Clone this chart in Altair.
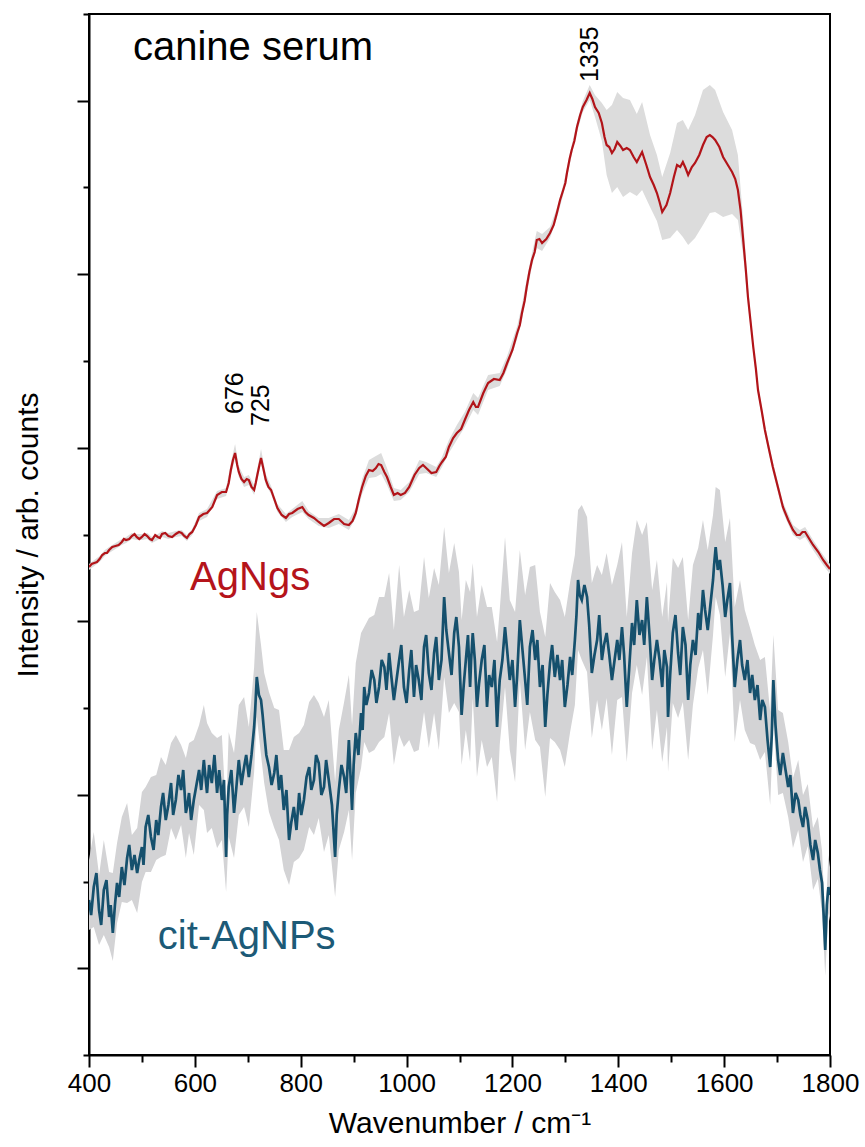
import altair as alt
import pandas as pd

# ---- AgNgs spectrum: main readings with the spread of the band ----
red_wn = [400, 410, 420, 430, 438, 450, 462, 470, 481, 490,
          500, 510, 519, 530, 538, 550, 564, 575, 585, 595,
          608, 623, 642, 659, 668, 676, 683, 693, 702, 712,
          718, 725, 734, 744, 756, 772, 784, 803, 815, 834,
          853, 872, 891, 904, 916, 929, 942, 952, 963, 976,
          989, 1005, 1024, 1037, 1056, 1067, 1080, 1095, 1110, 1126,
          1135, 1154, 1176, 1190, 1209, 1218, 1227, 1237, 1246, 1256,
          1271, 1284, 1296, 1303, 1312, 1322, 1333, 1346, 1356, 1369,
          1378, 1388, 1398, 1409, 1422, 1435, 1445, 1460, 1473, 1483,
          1498, 1511, 1522, 1532, 1545, 1560, 1573, 1583, 1598, 1615,
          1626, 1636, 1645, 1655, 1664, 1677, 1692, 1711, 1730, 1743,
          1753, 1768, 1787, 1800]
red_int = [488, 492, 496, 502, 505, 509, 513, 515, 519, 518,
           518, 519, 515, 518, 521, 519, 521, 522, 517, 523,
           538, 542, 560, 563, 585, 602, 583, 573, 575, 565,
           580, 597, 575, 565, 547, 537, 542, 548, 540, 533,
           532, 536, 530, 542, 568, 585, 587, 590, 578, 560,
           560, 568, 587, 587, 583, 593, 608, 622, 635, 653,
           648, 672, 675, 692, 722, 742, 768, 795, 815, 812,
           822, 842, 865, 882, 905, 928, 948, 962, 948, 932,
           910, 902, 913, 905, 905, 893, 903, 878, 862, 843,
           862, 890, 893, 880, 892, 910, 920, 915, 898, 883,
           865, 815, 758, 708, 665, 625, 588, 548, 525, 520,
           523, 510, 495, 486]
red_up = [3, 3, 3, 3, 3, 3, 3, 3, 3, 3,
          3, 3, 3, 3, 3, 3, 3, 3, 3, 3,
          4, 4, 4, 4, 7, 9, 6, 5, 5, 5,
          6, 9, 6, 4, 4, 4, 4, 6, 4, 4,
          5, 5, 5, 5, 8, 10, 12, 12, 9, 7,
          5, 5, 8, 6, 5, 5, 7, 8, 8, 9,
          9, 8, 7, 7, 7, 8, 8, 7, 9, 9,
          6, 5, 5, 5, 5, 5, 6, 8, 12, 20,
          35, 48, 50, 52, 50, 48, 50, 42, 38, 35,
          40, 42, 42, 45, 48, 55, 50, 50, 45, 42,
          35, 20, 10, 5, 5, 5, 5, 5, 5, 5,
          5, 5, 5, 5]
red_dn = [3, 3, 3, 3, 3, 3, 3, 3, 3, 3,
          3, 3, 3, 3, 3, 3, 3, 3, 3, 3,
          4, 4, 4, 4, 5, 6, 5, 5, 5, 5,
          5, 5, 5, 4, 4, 4, 4, 5, 4, 4,
          5, 5, 5, 5, 7, 8, 9, 9, 8, 6,
          5, 5, 6, 5, 5, 5, 6, 7, 7, 8,
          8, 7, 6, 6, 6, 7, 7, 6, 8, 8,
          5, 5, 5, 5, 5, 5, 5, 7, 10, 18,
          30, 40, 45, 47, 42, 34, 38, 30, 28, 28,
          45, 65, 75, 70, 75, 80, 78, 72, 60, 42,
          30, 15, 8, 5, 5, 5, 5, 5, 5, 5,
          5, 5, 5, 5]
# extra readings of the AgNgs trace between the main ones (fine jitter)
red_mid_wn = [405, 415, 425, 434, 444, 456, 466, 476, 486, 495,
              505, 515, 525, 534, 544, 557, 570, 580, 590, 602,
              616, 633, 651, 664, 672, 680, 688, 698, 707, 715,
              722, 730, 739, 750, 764, 778, 794, 809, 825, 844,
              863, 882, 898, 910, 923, 936, 947, 958, 970, 983,
              997, 1015, 1031, 1047, 1062, 1074, 1088, 1103, 1118, 1131,
              1145, 1165, 1183, 1200, 1214, 1223, 1232, 1242, 1251, 1264,
              1278, 1290, 1300, 1308, 1317, 1328, 1340, 1351, 1363, 1374,
              1383, 1393, 1404, 1416, 1429, 1440, 1453, 1467, 1478, 1491,
              1505, 1517, 1527, 1539, 1553, 1567, 1578, 1591, 1607, 1621,
              1631, 1641, 1650, 1660, 1671, 1685, 1702, 1721, 1737, 1748,
              1761, 1778, 1794]
red_mid_int = [491, 493, 500, 502, 508, 510, 516, 516, 521, 516,
               521, 516, 520, 517, 522, 518, 523, 519, 521, 530,
               541, 548, 563, 572, 595, 590, 576, 576, 568, 572,
               590, 585, 568, 556, 540, 541, 546, 543, 537, 529,
               536, 531, 534, 556, 579, 584, 591, 583, 568, 562,
               562, 580, 590, 582, 589, 598, 617, 626, 645, 648,
               662, 676, 682, 705, 730, 754, 783, 803, 816, 816,
               830, 855, 872, 896, 914, 940, 955, 956, 942, 918,
               908, 906, 909, 907, 898, 898, 890, 870, 853, 850,
               878, 888, 887, 888, 900, 918, 918, 908, 890, 876,
               845, 785, 733, 686, 644, 605, 567, 535, 520, 523,
               516, 503, 490]

# ---- cit-AgNPs spectrum: main readings with the spread of the band ----
blue_wn = [400, 409, 419, 428, 438, 445, 453, 462, 472, 481,
           491, 500, 507, 517, 527, 536, 545, 555, 564, 574,
           583, 589, 598, 608, 617, 623, 632, 642, 651, 659,
           664, 674, 683, 693, 702, 712, 717, 725, 731, 740,
           750, 759, 768, 778, 787, 797, 806, 816, 825, 834,
           844, 853, 865, 872, 882, 891, 897, 904, 914, 920,
           929, 939, 948, 958, 967, 976, 986, 995, 1005, 1014,
           1023, 1033, 1042, 1052, 1061, 1071, 1080, 1090, 1099, 1104,
           1112, 1120, 1125, 1133, 1142, 1152, 1161, 1171, 1176, 1186,
           1195, 1205, 1214, 1224, 1233, 1243, 1252, 1262, 1271, 1280,
           1290, 1299, 1309, 1318, 1324, 1331, 1341, 1350, 1360, 1369,
           1378, 1388, 1398, 1407, 1416, 1426, 1435, 1445, 1454, 1464,
           1473, 1483, 1492, 1494, 1503, 1513, 1522, 1532, 1541, 1551,
           1560, 1569, 1579, 1584, 1592, 1602, 1611, 1620, 1630, 1639,
           1649, 1658, 1668, 1677, 1687, 1693, 1702, 1711, 1721, 1730,
           1740, 1749, 1758, 1768, 1777, 1785, 1791, 1797, 1800]
blue_int = [155, 168, 145, 165, 138, 122, 172, 188, 197, 185,
            182, 208, 228, 218, 235, 248, 235, 272, 255, 265,
            242, 262, 255, 285, 295, 262, 272, 262, 255, 198,
            268, 242, 295, 288, 278, 328, 378, 355, 322, 288,
            282, 265, 245, 215, 248, 262, 255, 288, 275, 292,
            268, 275, 198, 265, 278, 315, 245, 322, 342, 368,
            362, 375, 368, 388, 402, 355, 395, 368, 385, 358,
            375, 408, 382, 402, 375, 458, 402, 422, 408, 340,
            395, 368, 422, 348, 395, 348, 368, 328, 375, 428,
            375, 348, 435, 375, 408, 395, 368, 328, 392, 378,
            375, 348, 398, 415, 475, 455, 458, 382, 415, 395,
            422, 375, 415, 428, 348, 432, 455, 435, 458, 375,
            415, 368, 388, 338, 422, 402, 428, 355, 415, 442,
            465, 425, 475, 508, 495, 438, 472, 368, 415, 375,
            362, 355, 335, 348, 288, 375, 295, 302, 268, 242,
            255, 228, 235, 195, 202, 172, 105, 168, 160]
blue_up = [40, 55, 35, 50, 45, 60, 40, 50, 55, 35,
           45, 55, 40, 60, 45, 50, 55, 40, 65, 45,
           55, 50, 60, 45, 55, 70, 50, 55, 65, 45,
           55, 60, 55, 70, 50, 60, 65, 55, 60, 75,
           65, 80, 60, 90, 70, 60, 75, 65, 85, 60,
           70, 80, 75, 60, 75, 65, 85, 70, 80, 60,
           75, 65, 90, 70, 80, 70, 95, 70, 80, 85,
           70, 90, 75, 85, 95, 70, 80, 90, 75, 95,
           80, 95, 70, 90, 75, 100, 80, 85, 70, 90,
           80, 95, 70, 85, 80, 95, 75, 90, 80, 85,
           80, 90, 75, 85, 70, 95, 80, 90, 75, 85,
           80, 95, 75, 85, 90, 70, 80, 85, 75, 90,
           80, 70, 85, 95, 75, 85, 70, 80, 75, 65,
           70, 80, 65, 60, 70, 75, 65, 80, 60, 70,
           65, 55, 60, 50, 55, 45, 50, 40, 45, 35,
           40, 32, 36, 32, 36, 32, 28, 32, 28]
blue_dn = [30, 40, 35, 45, 30, 28, 40, 35, 45, 30,
           40, 35, 45, 35, 40, 50, 35, 45, 40, 35,
           45, 40, 55, 35, 50, 40, 45, 55, 40, 35,
           50, 45, 55, 40, 50, 45, 40, 55, 50, 45,
           55, 50, 60, 45, 55, 65, 50, 60, 55, 55,
           65, 55, 40, 60, 55, 70, 50, 60, 55, 55,
           60, 70, 55, 70, 60, 65, 75, 60, 70, 55,
           70, 65, 75, 60, 70, 80, 60, 70, 65, 50,
           70, 75, 65, 70, 80, 60, 70, 75, 65, 60,
           70, 75, 60, 70, 65, 80, 60, 70, 75, 65,
           70, 60, 75, 65, 70, 60, 75, 65, 60, 70,
           65, 75, 60, 70, 55, 70, 65, 75, 60, 70,
           70, 75, 60, 55, 70, 65, 75, 60, 65, 55,
           60, 65, 55, 50, 55, 60, 50, 55, 60, 50,
           50, 45, 40, 45, 38, 42, 35, 40, 30, 35,
           30, 35, 26, 30, 26, 30, 26, 26, 26]
# extra readings of the noisy cit-AgNPs trace between the main ones
blue_mid_wn = [404, 414, 423, 433, 441, 449, 457, 467, 476, 486,
               495, 503, 512, 522, 531, 540, 550, 559, 569, 578,
               586, 593, 603, 612, 620, 627, 637, 646, 655, 661,
               669, 678, 688, 697, 707, 714, 721, 728, 735, 745,
               754, 763, 773, 782, 792, 801, 811, 820, 829, 839,
               848, 859, 868, 877, 886, 894, 900, 909, 917, 924,
               934, 943, 953, 962, 971, 981, 990, 1000, 1009, 1018,
               1028, 1037, 1047, 1056, 1066, 1075, 1085, 1094, 1101, 1108,
               1116, 1122, 1129, 1137, 1147, 1156, 1166, 1173, 1181, 1190,
               1200, 1209, 1219, 1228, 1238, 1247, 1257, 1266, 1275, 1285,
               1294, 1304, 1313, 1321, 1327, 1336, 1345, 1355, 1364, 1373,
               1383, 1393, 1402, 1411, 1421, 1430, 1440, 1449, 1459, 1468,
               1478, 1487, 1498, 1508, 1517, 1527, 1536, 1546, 1555, 1564,
               1574, 1581, 1588, 1597, 1606, 1615, 1625, 1634, 1644, 1653,
               1663, 1672, 1682, 1690, 1697, 1706, 1716, 1725, 1735, 1744,
               1753, 1763, 1772, 1781, 1788, 1794]
blue_mid_int = [140, 182, 130, 175, 150, 150, 158, 170, 210, 200,
                195, 190, 240, 205, 220, 262, 250, 240, 280, 285,
                250, 235, 270, 265, 278, 290, 300, 285, 275, 240,
                285, 265, 270, 300, 300, 345, 360, 340, 300, 270,
                300, 280, 265, 232, 225, 240, 278, 265, 300, 260,
                295, 250, 240, 290, 262, 280, 290, 300, 325, 350,
                385, 352, 395, 365, 380, 375, 410, 352, 405, 390,
                355, 420, 365, 418, 395, 425, 380, 438, 380, 370,
                420, 395, 395, 372, 410, 380, 395, 350, 395, 405,
                395, 380, 405, 350, 425, 415, 390, 360, 410, 400,
                395, 370, 380, 440, 460, 470, 430, 400, 440, 410,
                400, 395, 395, 400, 390, 410, 420, 410, 420, 395,
                395, 405, 380, 440, 380, 410, 390, 400, 425, 445,
                450, 490, 485, 470, 455, 420, 395, 390, 395, 380,
                370, 355, 315, 320, 330, 280, 285, 280, 262, 240,
                248, 210, 215, 185, 140, 150]

# ---- axis ticks (the intensity axis carries arbitrary counts, no labels) ----
x_major = [400, 600, 800, 1000, 1200, 1400, 1600, 1800]
x_minor = [500, 700, 900, 1100, 1300, 1500, 1700]
y_top = 1041
y_major = [86.75, 260.25, 433.75, 607.25, 780.75, 954.25]
y_minor = [0, 173.5, 347, 520.5, 694, 867.5, 1041]

# ---- annotations ----
peak_wn = [676, 725, 1346]
peak_text = ["676", "725", "1335"]
peak_pos = [641, 629, 973]
name_wn = [483, 591, 530]
name_pos = [995, 465, 106]
name_text = ["canine serum", "AgNgs", "cit-AgNPs"]
name_key = ["title", "AgNgs", "cit"]

FONT = "Liberation Sans"
RED = "#b21419"
BLUE = "#15506d"
RED_TEXT = "#b5141b"
BLUE_TEXT = "#1c5a77"

red_band_df = pd.DataFrame({"wn": red_wn, "I": red_int, "up": red_up, "dn": red_dn})
red_line_df = pd.concat([
    pd.DataFrame({"wn": red_wn, "I": red_int}),
    pd.DataFrame({"wn": red_mid_wn, "I": red_mid_int}),
]).sort_values("wn")
blue_band_df = pd.DataFrame({"wn": blue_wn, "I": blue_int, "up": blue_up, "dn": blue_dn})
blue_line_df = pd.concat([
    pd.DataFrame({"wn": blue_wn, "I": blue_int}),
    pd.DataFrame({"wn": blue_mid_wn, "I": blue_mid_int}),
]).sort_values("wn")
peaks = pd.DataFrame({"wn": peak_wn, "txt": peak_text, "pos": peak_pos})
names = pd.DataFrame({"wn": name_wn, "pos": name_pos, "txt": name_text, "who": name_key})

xs = alt.Scale(domain=[400, 1800], nice=False, zero=False)
ys = alt.Scale(domain=[0, y_top], nice=False, zero=False)

x_axis_major = alt.Axis(
    orient="bottom", values=x_major, format="d", tickSize=12, tickWidth=2,
    tickColor="black", domainColor="black", domainWidth=2, labelFont=FONT,
    labelFontSize=26, labelColor="black", labelPadding=3, labelFlush=False,
    grid=False, title="Wavenumber / cm⁻¹", titleFont=FONT, titleFontSize=30,
    titleFontWeight="normal", titleColor="black", titlePadding=12,
)
x_axis_minor = alt.Axis(
    orient="bottom", values=x_minor, tickSize=7, tickWidth=2, tickColor="black",
    domain=False, labels=False, grid=False, title=None,
)
y_axis_major = alt.Axis(
    orient="left", values=y_major, tickSize=12, tickWidth=2, tickColor="black",
    domainColor="black", domainWidth=2, labels=False, grid=False,
    title="Intensity / arb. counts", titleFont=FONT, titleFontSize=30,
    titleFontWeight="normal", titleColor="black", titlePadding=33,
)
y_axis_minor = alt.Axis(
    orient="left", values=y_minor, tickSize=6, tickWidth=2, tickColor="black",
    domain=False, labels=False, grid=False, title=None,
)

band_calc = dict(lo="datum.I - datum.dn", hi="datum.I + datum.up")

red_band = alt.Chart(red_band_df).transform_calculate(**band_calc).mark_area(
    color="#dcdcdc", clip=True
).encode(
    x=alt.X("wn:Q", scale=xs, axis=x_axis_major),
    y=alt.Y("lo:Q", scale=ys, axis=y_axis_major),
    y2="hi:Q",
)

blue_band = alt.Chart(blue_band_df).transform_calculate(**band_calc).mark_area(
    color="#d3d3d5", clip=True
).encode(
    x=alt.X("wn:Q", scale=xs, axis=x_axis_minor),
    y=alt.Y("lo:Q", scale=ys, axis=y_axis_minor),
    y2="hi:Q",
)

red_line = alt.Chart(red_line_df).mark_line(color=RED, strokeWidth=2.2, clip=True).encode(
    x=alt.X("wn:Q", scale=xs, axis=None),
    y=alt.Y("I:Q", scale=ys, axis=None),
)

blue_line = alt.Chart(blue_line_df).mark_line(color=BLUE, strokeWidth=2.7, clip=True).encode(
    x=alt.X("wn:Q", scale=xs, axis=None),
    y=alt.Y("I:Q", scale=ys, axis=None),
)

peak_labels = alt.Chart(peaks).mark_text(
    angle=270, align="left", baseline="middle", font=FONT, fontSize=25, color="black"
).encode(
    x=alt.X("wn:Q", scale=xs, axis=None),
    y=alt.Y("pos:Q", scale=ys, axis=None),
    text="txt:N",
)

name_labels = alt.Chart(names).mark_text(
    align="left", baseline="alphabetic", font=FONT, fontSize=40
).encode(
    x=alt.X("wn:Q", scale=xs, axis=None),
    y=alt.Y("pos:Q", scale=ys, axis=None),
    text="txt:N",
    color=alt.Color(
        "who:N",
        scale=alt.Scale(domain=name_key, range=["black", RED_TEXT, BLUE_TEXT]),
        legend=None,
    ),
)

chart = alt.layer(
    red_band, blue_band, red_line, blue_line, peak_labels, name_labels
).resolve_axis(
    x="independent", y="independent"
).properties(
    width=741,
    height=1041,
    padding={"left": 89, "top": 14, "right": 35, "bottom": 92},
    autosize=alt.AutoSizeParams(type="none"),
    background="white",
).configure_view(
    stroke="black", strokeWidth=2
)

chart.save("out.html", embed_options={"renderer": "svg", "actions": False})
